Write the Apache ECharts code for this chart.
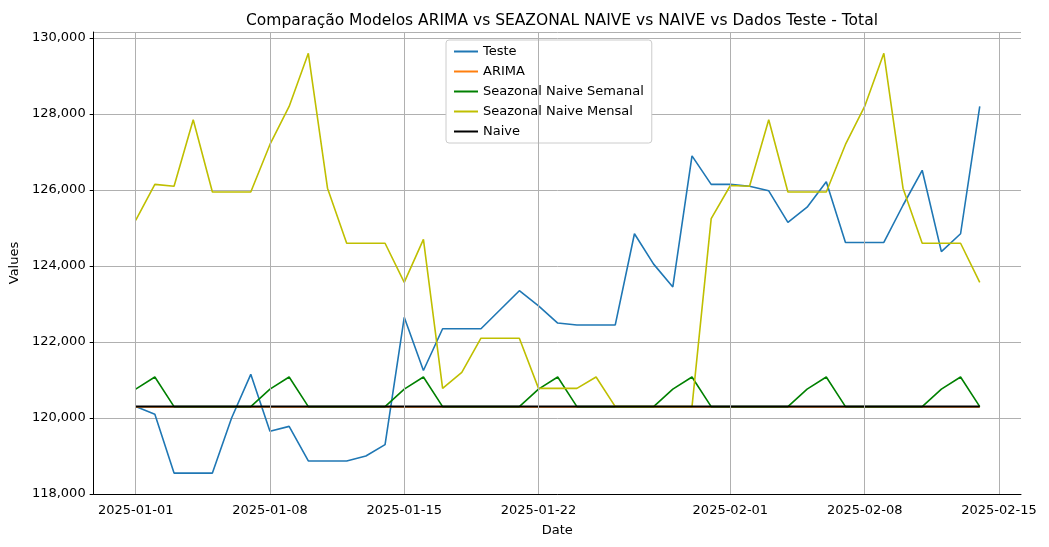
<!DOCTYPE html>
<html><head><meta charset="utf-8">
<script src="https://cdn.jsdelivr.net/npm/echarts@6/dist/echarts.min.js"></script>
<style>html,body{margin:0;padding:0;background:#fff}#c{width:1049px;height:547px}</style>
</head><body><div id="c"></div>
<script>
const startDate = [2025, 0, 1];
const teste = [120300,120100,118550,118550,118550,120000,121150,119650,119780,118870,118870,118870,119000,119300,122650,121250,122350,122350,122350,122850,123350,122950,122500,122450,122450,122450,124850,124050,123450,126900,126150,126150,126100,125980,125150,125550,126220,124620,124620,124620,125600,126520,124380,124850,128200];
const arima = [120290,120290,120290,120290,120290,120290,120290,120290,120290,120290,120290,120290,120290,120290,120290,120290,120290,120290,120290,120290,120290,120290,120290,120290,120290,120290,120290,120290,120290,120290,120290,120290,120290,120290,120290,120290,120290,120290,120290,120290,120290,120290,120290,120290,120290];
const semanal = [120760,121080,120300,120300,120300,120300,120300,120760,121080,120300,120300,120300,120300,120300,120760,121080,120300,120300,120300,120300,120300,120760,121080,120300,120300,120300,120300,120300,120760,121080,120300,120300,120300,120300,120300,120760,121080,120300,120300,120300,120300,120300,120760,121080,120300];
const mensal = [125200,126150,126100,127850,125950,125950,125950,127200,128200,129600,126050,124600,124600,124600,123570,124700,120780,121200,122100,122100,122100,120780,120780,120780,121080,120300,120300,120300,120300,120300,125250,126120,126100,127850,125950,125950,125950,127200,128200,129600,126050,124600,124600,124600,123570];
const naive = [120300,120300,120300,120300,120300,120300,120300,120300,120300,120300,120300,120300,120300,120300,120300,120300,120300,120300,120300,120300,120300,120300,120300,120300,120300,120300,120300,120300,120300,120300,120300,120300,120300,120300,120300,120300,120300,120300,120300,120300,120300,120300,120300,120300,120300];
const tickDates = ['2025-01-01','2025-01-08','2025-01-15','2025-01-22','2025-02-01','2025-02-08','2025-02-15'];

const DAY = 86400000;
const t0 = Date.UTC(startDate[0], startDate[1], startDate[2]);
const pts = arr => arr.map((v, i) => [t0 + i * DAY, v]);
const tickTs = tickDates.map(s => Date.parse(s + 'T00:00:00Z'));
const F = 'DejaVu Sans';
const mk = (name, data, color, w) => ({ name, type: 'line', data: pts(data), showSymbol: false, symbol: 'none', lineStyle: { color, width: w || 1.6 }, itemStyle: { color }, animation: false });

const chart = echarts.init(document.getElementById('c'));
chart.setOption({
  animation: false,
  backgroundColor: '#fff',
  title: { text: 'Comparação Modelos ARIMA vs SEAZONAL NAIVE vs NAIVE vs Dados Teste - Total', left: 557, textAlign: 'center', top: 8, textStyle: { fontFamily: F, fontSize: 15.5, fontWeight: 'normal', color: '#000' } },
  grid: { left: 92, right: 28, top: 32, bottom: 53 },
  legend: { data: ['Teste', 'ARIMA', 'Seazonal Naive Semanal', 'Seazonal Naive Mensal', 'Naive'], orient: 'vertical', left: 446, top: 40, itemGap: 7, itemWidth: 24, itemHeight: 2, backgroundColor: '#fff', borderColor: '#ccc', borderWidth: 1, borderRadius: 3, padding: [5, 8, 5, 8], textStyle: { fontFamily: F, fontSize: 13, color: '#000' }, icon: 'rect' },
  xAxis: { type: 'time', min: t0 - 2.19 * DAY, max: t0 + 46.15 * DAY, name: 'Date', nameLocation: 'middle', nameGap: 30, nameTextStyle: { fontFamily: F, fontSize: 13, color: '#000' },
    axisLine: { show: true, lineStyle: { color: '#000' } },
    axisTick: { show: false }, axisLabel: { show: false }, splitLine: { show: false } },
  yAxis: { type: 'value', min: 118000, max: 130160, interval: 2000, name: 'Values', nameLocation: 'middle', nameGap: 68, nameTextStyle: { fontFamily: F, fontSize: 13, color: '#000' },
    axisLine: { show: true, lineStyle: { color: '#000' } },
    axisTick: { show: true, length: 4, lineStyle: { color: '#000' } },
    axisLabel: { fontFamily: F, fontSize: 13, color: '#000', showMaxLabel: false },
    splitLine: { show: true, lineStyle: { color: '#b0b0b0', width: 1 } } },
  series: [
    { name: 'grid', type: 'line', data: [], silent: true,
      markLine: { silent: true, symbol: 'none', animation: false,
        lineStyle: { color: '#b0b0b0', width: 1, type: 'solid' },
        label: { show: true, position: 'start', distance: 10, color: '#000', fontFamily: F, fontSize: 13,
          formatter: p => tickDates[tickTs.indexOf(p.value)] || '' },
        data: tickTs.map(t => ({ xAxis: t })) } },
    mk('Teste', teste, '#1f77b4'),
    mk('ARIMA', arima, '#ff7f0e'),
    mk('Seazonal Naive Semanal', semanal, '#008000'),
    mk('Seazonal Naive Mensal', mensal, '#bfbf00'),
    mk('Naive', naive, '#000000', 2)
  ]
});
</script></body></html>
